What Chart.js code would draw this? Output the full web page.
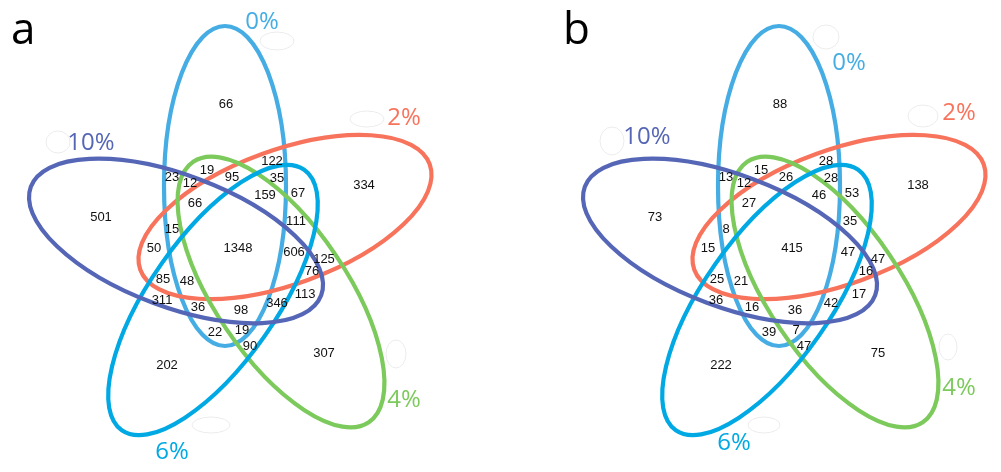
<!DOCTYPE html>
<html>
<head>
<meta charset="utf-8">
<script src="https://cdn.jsdelivr.net/npm/chart.js@4.4.1/dist/chart.umd.min.js"></script>
<style>
  body { margin: 0; background: #fff; }
  #wrap { position: relative; width: 1001px; height: 472px; }
  .panel { position: absolute; top: 0; height: 472px; }
</style>
</head>
<body>
<div id="wrap">
  <div class="panel" style="left:0;width:554px"><canvas id="chartA"></canvas></div>
  <div class="panel" style="left:554px;width:447px"><canvas id="chartB"></canvas></div>
</div>
<script>
// set names, in drawing order
const setNames = ['0%', '2%', '4%', '6%', '10%'];
const setColors = ['#45ade3', '#f8735c', '#7cca5c', '#00a9e3', '#5566b6'];

// counts per region (same region order in both panels)
const countsA = [66, 122, 19, 95, 23, 12, 35, 159, 67, 334, 501, 66, 111, 15, 50, 1348,
                 606, 125, 76, 85, 48, 113, 311, 36, 98, 346, 22, 19, 90, 307, 202];
const countsB = [88, 28, 15, 26, 13, 12, 28, 46, 53, 138, 73, 27, 35, 8, 15, 415,
                 47, 47, 16, 25, 21, 17, 36, 16, 36, 42, 39, 7, 47, 75, 222];

// layout: where each region's number sits (panel units)
const regionAnchors = [
  [226,104],[272,161],[207,170],[232,177],[172,177],[190,183],[277,178],[265,195],
  [298,193],[364,185],[101,217],[195,203],[296,221],[172,229],[154,248],[238,248],
  [294,252],[324,259],[312,271],[163,279],[187,281],[305,294],[162,300],[198,307],
  [241,310],[277,303],[215,332],[242,330],[250,346],[324,353],[167,365]
];

// ellipse outlines: center, semi axes, rotation (deg, clockwise on screen)
const ellipses = [
  { cx: 225, cy: 186, a: 160, b: 61, rot: 90 },
  { cx: 285, cy: 217, a: 154, b: 67, rot: -20 },
  { cx: 281, cy: 292, a: 157, b: 66, rot: 56 },
  { cx: 213, cy: 300, a: 159, b: 63, rot: -55 },
  { cx: 176, cy: 241, a: 155, b: 66, rot: 20.5 }
];

const labelPosA = [[262,22],[404,118],[404,400],[172,452],[91,143]];
const labelPosB = [[295,63],[405,113],[405,388],[180,443],[93,137]];

// faint leftover outlines next to the labels
const ghostsA = [[277,41,17,9],[367,119,17,8],[396,354,10,14],[211,425,19,8],[58,142,12,11]];
const ghostsB = [[272,37,13,12],[369,116,15,11],[394,347,9,13],[210,425,16,8],[58,141,12,14]];

const vennPlugin = {
  id: 'venn',
  beforeDatasetsDraw(chart, args, opts) {
    const ctx = chart.ctx;
    const xs = chart.scales.x, ys = chart.scales.y;
    ctx.save();
    ctx.lineWidth = 1;
    ctx.strokeStyle = '#ececec';
    opts.ghosts.forEach(g => {
      ctx.beginPath();
      ctx.ellipse(xs.getPixelForValue(g[0]), ys.getPixelForValue(g[1]), g[2], g[3], 0, 0, 2 * Math.PI);
      ctx.stroke();
    });
    ctx.lineWidth = 4.2;
    ellipses.forEach((e, i) => {
      const px = xs.getPixelForValue(e.cx);
      const py = ys.getPixelForValue(e.cy);
      const rx = Math.abs(xs.getPixelForValue(e.cx + e.a) - px);
      const ry = Math.abs(xs.getPixelForValue(e.cx + e.b) - px);
      ctx.beginPath();
      ctx.strokeStyle = setColors[i];
      ctx.ellipse(px, py, rx, ry, e.rot * Math.PI / 180, 0, 2 * Math.PI);
      ctx.stroke();
    });
    ctx.restore();
  },
  afterDatasetsDraw(chart, args, opts) {
    const ctx = chart.ctx;
    const xs = chart.scales.x, ys = chart.scales.y;
    ctx.save();
    // region counts
    const meta = chart.getDatasetMeta(0);
    ctx.fillStyle = '#111';
    ctx.font = '13px "Liberation Sans", Arial, sans-serif';
    ctx.textAlign = 'center';
    ctx.textBaseline = 'middle';
    meta.data.forEach((pt, i) => {
      ctx.fillText(String(chart.data.datasets[0].data[i].v), pt.x, pt.y);
    });
    // set labels
    ctx.font = '24px "Open Sans", sans-serif';
    opts.labelPos.forEach((p, i) => {
      ctx.fillStyle = setColors[i];
      ctx.fillText(setNames[i], xs.getPixelForValue(p[0]), ys.getPixelForValue(p[1]));
    });
    // panel letter
    ctx.fillStyle = '#000';
    ctx.font = '44px "Open Sans", sans-serif';
    ctx.textAlign = 'left';
    ctx.textBaseline = 'alphabetic';
    ctx.fillText(opts.letter, xs.getPixelForValue(opts.letterX), ys.getPixelForValue(44));
    ctx.restore();
  }
};

function makeVenn(id, counts, labelPos, ghosts, letter, letterX, width) {
  return new Chart(document.getElementById(id), {
    type: 'scatter',
    data: {
      datasets: [{
        data: regionAnchors.map((p, i) => ({ x: p[0], y: p[1], v: counts[i] })),
        pointRadius: 0,
        pointHoverRadius: 0
      }]
    },
    options: {
      responsive: true,
      maintainAspectRatio: false,
      animation: false,
      events: [],
      layout: { padding: 0, autoPadding: false },
      scales: {
        x: { type: 'linear', min: 0, max: width, display: false },
        y: { type: 'linear', min: 0, max: 472, reverse: true, display: false }
      },
      plugins: {
        legend: { display: false },
        tooltip: { enabled: false },
        venn: { labelPos: labelPos, ghosts: ghosts, letter: letter, letterX: letterX }
      }
    },
    plugins: [vennPlugin]
  });
}

makeVenn('chartA', countsA, labelPosA, ghostsA, 'a', 11, 554);
makeVenn('chartB', countsB, labelPosB, ghostsB, 'b', 9, 447);
</script>
</body>
</html>
